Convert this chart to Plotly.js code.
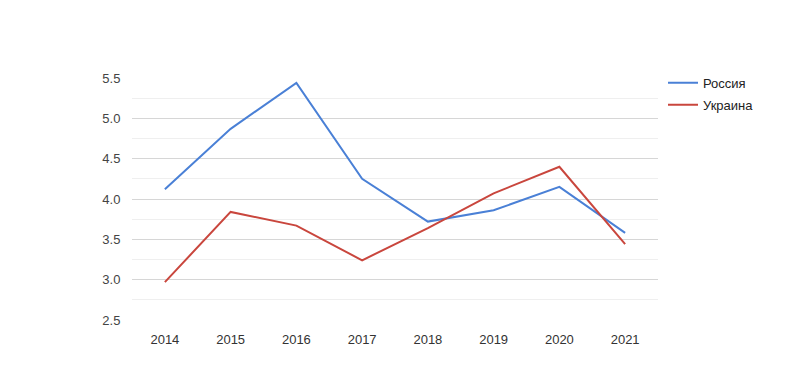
<!DOCTYPE html>
<html>
<head>
<meta charset="utf-8">
<script src="https://cdn.plot.ly/plotly-3.0.1.min.js"></script>
<style>html,body{margin:0;padding:0;background:#fff;}#chart{width:800px;height:370px;}</style>
</head>
<body>
<div id="chart"></div>
<script>
const years = ['2014','2015','2016','2017','2018','2019','2020','2021'];
const russia = [4.12, 4.87, 5.44, 4.25, 3.72, 3.86, 4.15, 3.58];
const ukraine = [2.97, 3.84, 3.67, 3.24, 3.64, 4.07, 4.40, 3.44];
const seriesNames = ['Россия', 'Украина'];
const yTicks = [2.5, 3.0, 3.5, 4.0, 4.5, 5.0, 5.5];
const yTickText = ['2.5', '3.0', '3.5', '4.0', '4.5', '5.0', '5.5'];

const traces = [
  {x: years, y: russia, name: seriesNames[0], type: 'scatter', mode: 'lines',
   legendgroup: 'a', line: {color: '#4a80d6', width: 2}},
  {x: years, y: ukraine, name: seriesNames[1], type: 'scatter', mode: 'lines',
   legendgroup: 'b', line: {color: '#c9463d', width: 2}}
];

const layout = {
  width: 800, height: 370,
  margin: {l: 132, r: 142, t: 78, b: 50},
  paper_bgcolor: '#fff', plot_bgcolor: '#fff',
  font: {family: 'Liberation Sans, Arial, sans-serif', size: 13, color: '#444'},
  showlegend: true,
  legend: {x: 1.0095, y: 1.042, xanchor: 'left', yanchor: 'top', itemwidth: 30,
           tracegroupgap: 2, font: {size: 13, color: '#222'}, bgcolor: 'rgba(0,0,0,0)'},
  xaxis: {type: 'category', range: [-0.5, 7.5], showgrid: false, zeroline: false,
          showline: false, ticks: 'outside', ticklen: 7, tickcolor: 'rgba(0,0,0,0)',
          tickfont: {size: 13, color: '#333'}, fixedrange: true},
  yaxis: {range: [2.5, 5.5], tickvals: yTicks, ticktext: yTickText,
          showgrid: true, gridcolor: '#d6d6d6', gridwidth: 1, zeroline: false,
          showline: false, ticks: 'outside', ticklen: 8, tickcolor: 'rgba(0,0,0,0)',
          tickfont: {size: 13, color: '#444'},
          minor: {dtick: 0.25, showgrid: true, gridcolor: '#efefef', gridwidth: 1},
          fixedrange: true}
};

Plotly.newPlot('chart', traces, layout, {displayModeBar: false, staticPlot: true});
</script>
</body>
</html>
